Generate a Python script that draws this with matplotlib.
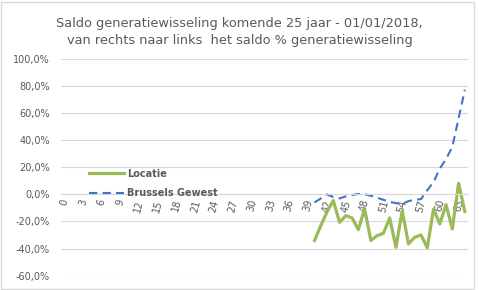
import matplotlib.pyplot as plt
from matplotlib.patches import Rectangle
from matplotlib.ticker import FuncFormatter
import numpy as np

# categories 0..64, values only from 40 onwards
categories = list(range(65))
first_cat = 40
locatie = [-34, -23, -13, -4.6, -20.6, -15.7, -17.4, -26, -10.8, -34,
           -30.4, -28.7, -17.4, -39, -12, -36.5, -31.6, -29.9, -39.4, -10.8,
           -21.8, -7.6, -25.5, 8.1, -12.7]
brussel = [-6, -3, 0, -2, -3, -1.5, -0.5, 0.3, 0, -1,
           -2.5, -4, -5.5, -6.5, -7, -5, -4, -3.5, 3, 9,
           19, 26, 35, 56, 77]
tick_labels = [str(c) for c in categories[::3]]

title = ('Saldo generatiewisseling komende 25 jaar - 01/01/2018,\n'
         'van rechts naar links  het saldo % generatiewisseling')

grey = '#595959'
fig = plt.figure(figsize=(4.79, 2.90), dpi=100)
ax = fig.add_axes([0.127, 0.049, 0.85, 0.749])

x = np.arange(first_cat, first_cat + len(locatie))
ax.plot(x, locatie, color='#9BBB59', lw=2.3, label='Locatie', solid_joinstyle='round')
ax.plot(x, brussel, color='#4472C4', lw=1.5, dashes=(4, 2.5), label='Brussels Gewest')

# axis crosses at 0 (set before tick labels, it resets the ticks)
for s in ['top', 'right', 'left']:
    ax.spines[s].set_visible(False)
ax.spines['bottom'].set_position(('data', 0))
ax.spines['bottom'].set_color('#d9d9d9')
ax.spines['bottom'].set_linewidth(0.8)

ax.set_xlim(-0.5, len(categories) - 0.5)
ax.set_ylim(-60, 100)
ax.set_yticks(np.arange(-60, 101, 20))
ax.yaxis.set_major_formatter(FuncFormatter(lambda v, p: f'{v:.1f}%'.replace('.', ',')))
ax.grid(axis='y', color='#d9d9d9', lw=0.8)
ax.set_axisbelow(True)

ax.set_xticks(categories[::3])
ax.set_xticklabels(tick_labels, rotation=75, fontsize=7, color=grey)
ax.tick_params(axis='x', length=0, pad=3)
ax.tick_params(axis='y', length=0, labelsize=7, labelcolor=grey, pad=8)

leg = ax.legend(loc='upper left', bbox_to_anchor=(0.06, 0.51), frameon=False,
                prop={'size': 7, 'weight': 'bold'}, handlelength=3.6,
                handletextpad=0.3, labelspacing=0.95, borderaxespad=0)
for t in leg.get_texts():
    t.set_color(grey)

fig.text(0.5, 0.89, title, ha='center', va='center', fontsize=9.3, color=grey,
         linespacing=1.45)
fig.patches.append(Rectangle((0.002, 0.004), 0.988, 0.99, transform=fig.transFigure,
                             fill=False, edgecolor='#d9d9d9', lw=1))

fig.savefig('out.png', dpi=100)
